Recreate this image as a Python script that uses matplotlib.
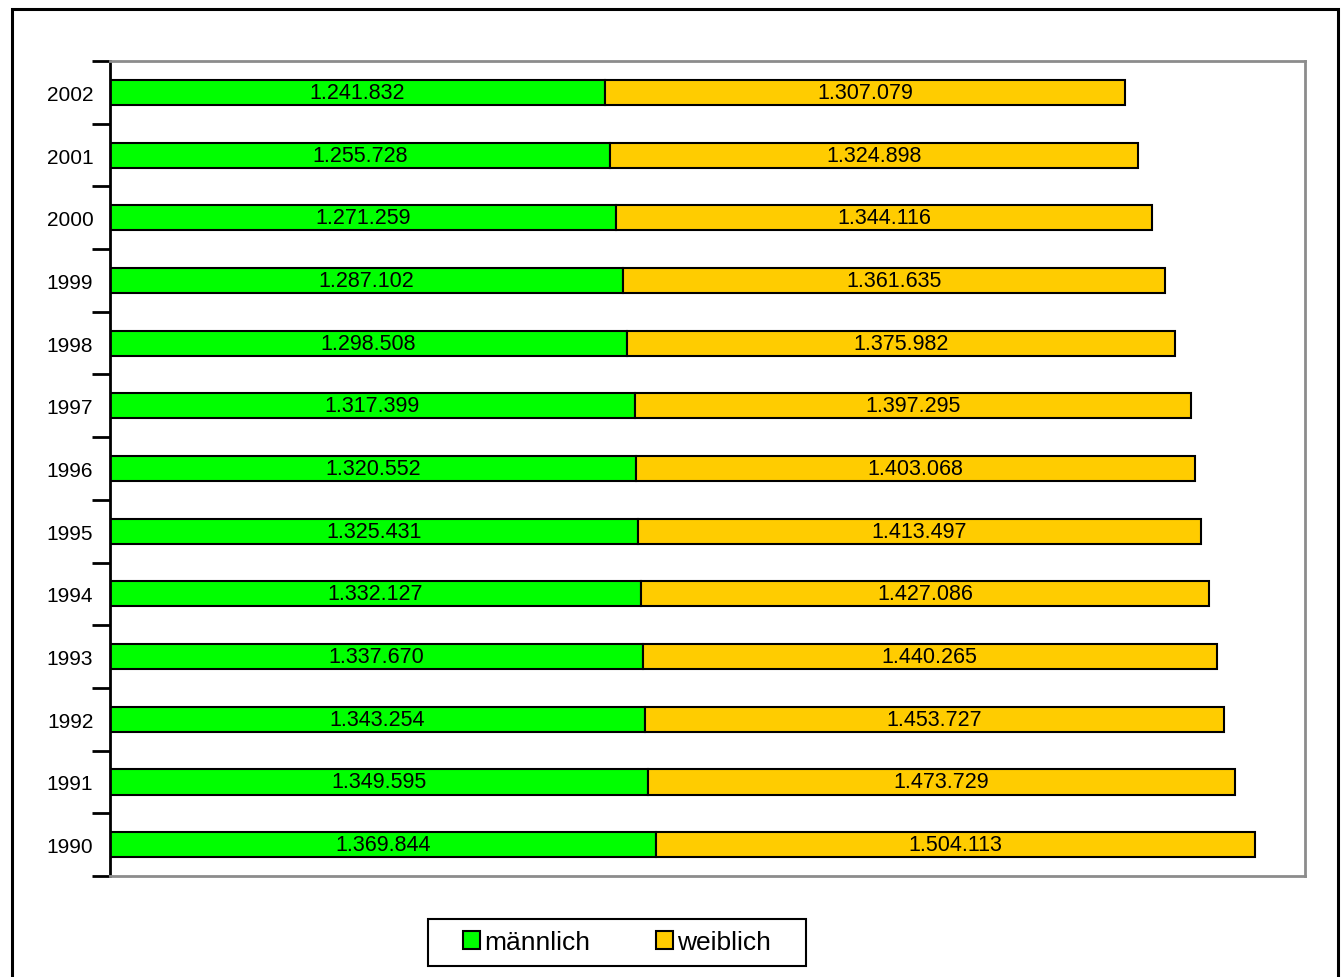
import matplotlib.pyplot as plt
import numpy as np
from matplotlib.patches import Rectangle

years = ["1990", "1991", "1992", "1993", "1994", "1995", "1996",
         "1997", "1998", "1999", "2000", "2001", "2002"]
maennlich = [1369844, 1349595, 1343254, 1337670, 1332127, 1325431, 1320552,
             1317399, 1298508, 1287102, 1271259, 1255728, 1241832]
weiblich = [1504113, 1473729, 1453727, 1440265, 1427086, 1413497, 1403068,
            1397295, 1375982, 1361635, 1344116, 1324898, 1307079]

GREEN = "#00ff00"
YELLOW = "#ffcc00"
FONT = "Liberation Sans"
W, H = 1343, 978

plt.rcParams.update({"font.family": FONT, "font.size": 15})


def fmt(v):
    return f"{v:,}".replace(",", ".")


fig = plt.figure(figsize=(W / 100, H / 100), dpi=100)
ax = fig.add_axes([110 / W, 101 / H, 1195 / W, 815 / H])

y = np.arange(len(years))
m = np.array(maennlich)
w = np.array(weiblich)
bars_m = ax.barh(y, m, height=0.4, color=GREEN, edgecolor="black",
                 linewidth=1.5, label="männlich")
bars_w = ax.barh(y, w, left=m, height=0.4, color=YELLOW, edgecolor="black",
                 linewidth=1.5, label="weiblich")
for bars, vals in ((bars_m, m), (bars_w, w)):
    for b, v in zip(bars, vals):
        ax.text(b.get_x() + b.get_width() / 2, b.get_y() + b.get_height() / 2,
                fmt(v), ha="center", va="center", fontsize=15.5)

ax.set_xlim(0, 3000000)
ax.set_ylim(-0.5, len(years) - 0.5)
ax.set_xticks([])
ax.set_yticks(y)
ax.set_yticklabels(years)
ax.tick_params(axis="y", which="major", length=0, pad=12)
ax.set_yticks(np.arange(-0.5, len(years), 1.0), minor=True)
ax.tick_params(axis="y", which="minor", length=13, width=2, color="black")

for s in ("top", "right", "bottom"):
    ax.spines[s].set_color("#8c8c8c")
    ax.spines[s].set_linewidth(2)
ax.spines["left"].set_color("black")
ax.spines["left"].set_linewidth(2)

leg = fig.legend(loc="center", bbox_to_anchor=(617 / W, 1 - 943.5 / H),
                 ncol=2, frameon=False, fontsize=19,
                 handlelength=0.65, handleheight=0.65, handletextpad=0.15,
                 columnspacing=2.5, borderpad=0, borderaxespad=0)

# legend box and outer chart frame
fig.patches.append(Rectangle((428 / W, 1 - 967 / H), 378 / W, 47 / H,
                             transform=fig.transFigure, fill=False,
                             edgecolor="black", linewidth=1.5))
fig.patches.append(Rectangle((12 / W, -0.05), 1326 / W, 1.05 - 10 / H,
                             transform=fig.transFigure, fill=False,
                             edgecolor="black", linewidth=2.2))

fig.savefig("out.png", dpi=100)
